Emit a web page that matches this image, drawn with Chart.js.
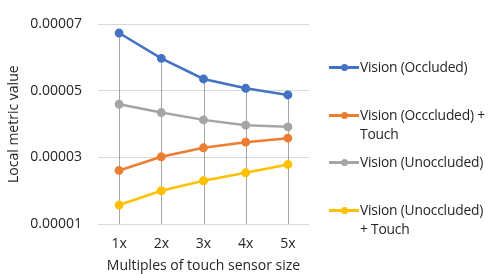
<!DOCTYPE html>
<html lang="en">
<head>
    <meta charset="UTF-8">
    <title>Local metric value</title>
    <script src="https://cdn.jsdelivr.net/npm/chart.js"></script>
    <style>
        body { margin: 0; background: #fff; font-family: "Open Sans", sans-serif; }
        #wrap { position: relative; width: 495px; height: 274px; }
        #legend { position: absolute; left: 329px; top: 0; font-size: 13.8px; color: #262626; }
        .item { position: absolute; left: 0; width: 170px; line-height: 19px; }
        .swatch { position: absolute; left: 0; top: 9px; width: 30px; height: 3px; }
        .swatch i { position: absolute; left: 12px; top: -2px; width: 7px; height: 7px; border-radius: 50%; background: inherit; }
        .txt { margin-left: 31px; white-space: pre; letter-spacing: -0.2px; }
    </style>
</head>
<body>
<div id="wrap">
    <canvas id="chart" width="495" height="274"></canvas>
    <div id="legend"></div>
</div>
<script>
    let labels = ['1x', '2x', '3x', '4x', '5x'];
    let vis_occ = [0.0000674, 0.0000598, 0.0000536, 0.0000508, 0.0000488];
    let vis_occ_touch = [0.0000261, 0.0000302, 0.0000329, 0.0000346, 0.0000358];
    let vis_unocc = [0.0000460, 0.0000435, 0.0000413, 0.0000397, 0.0000392];
    let vis_unocc_touch = [0.0000157, 0.0000200, 0.0000230, 0.0000254, 0.0000279];
    let y_ticks = [0.00001, 0.00003, 0.00005, 0.00007];

    let series = [
        {name: 'Vision (Occluded)', data: vis_occ, color: '#4472C4', top: 57},
        {name: 'Vision (Occcluded) +\nTouch', data: vis_occ_touch, color: '#ED7D31', top: 105},
        {name: 'Vision (Unoccluded)', data: vis_unocc, color: '#A5A5A5', top: 152},
        {name: 'Vision (Unoccluded)\n+ Touch', data: vis_unocc_touch, color: '#FFC000', top: 200},
    ];

    // drop lines from the highest point down to the axis
    const dropLines = {
        id: 'dropLines',
        beforeDatasetsDraw(chart) {
            const ctx = chart.ctx;
            const x = chart.scales.x, y = chart.scales.y;
            ctx.save();
            ctx.strokeStyle = '#a6a6a6';
            ctx.lineWidth = 1;
            labels.forEach((l, i) => {
                let top = Math.max(...series.map(s => s.data[i]));
                let px = Math.round(x.getPixelForValue(i)) + 0.5;
                ctx.beginPath();
                ctx.moveTo(px, y.getPixelForValue(top));
                ctx.lineTo(px, chart.chartArea.bottom);
                ctx.stroke();
            });
            ctx.restore();
        }
    };

    const font = {family: 'Open Sans', size: 14};

    new Chart(document.getElementById('chart'), {
        type: 'line',
        data: {
            labels: labels,
            datasets: series.map(s => ({
                label: s.name,
                data: s.data,
                borderColor: s.color,
                backgroundColor: s.color,
                borderWidth: 2.5,
                pointRadius: 3.2,
                pointHoverRadius: 3.2,
                fill: false,
                tension: 0,
            })),
        },
        options: {
            responsive: false,
            animation: false,
            layout: {padding: {top: 17, right: 186, left: 0, bottom: 0}},
            plugins: {
                legend: {display: false},
                tooltip: {enabled: false},
            },
            scales: {
                x: {
                    offset: true,
                    grid: {display: false, drawTicks: false},
                    border: {display: false},
                    ticks: {padding: 12, color: '#262626', font: font},
                    title: {display: true, text: 'Multiples of touch sensor size', color: '#262626',
                        font: font, padding: {top: 2, bottom: 0}},
                    afterFit: s => { s.height = 50; },
                },
                y: {
                    min: 0.00001,
                    max: 0.00007,
                    afterBuildTicks: s => { s.ticks = y_ticks.map(v => ({value: v})); },
                    grid: {color: '#d9d9d9', drawTicks: false},
                    border: {display: false},
                    ticks: {
                        padding: 16, color: '#262626', font: font,
                        callback: v => v.toFixed(5),
                    },
                    title: {display: true, text: 'Local metric value', color: '#262626',
                        font: font, padding: {top: 6, bottom: 2}},
                    afterFit: s => { s.width = 98; },
                },
            },
        },
        plugins: [dropLines],
    });

    let legend = document.getElementById('legend');
    series.forEach(s => {
        let item = document.createElement('div');
        item.className = 'item';
        item.style.top = s.top + 'px';
        item.innerHTML = '<span class="swatch" style="background:' + s.color + '"><i></i></span>';
        let t = document.createElement('div');
        t.className = 'txt';
        t.textContent = s.name;
        item.appendChild(t);
        legend.appendChild(item);
    });
</script>
</body>
</html>
